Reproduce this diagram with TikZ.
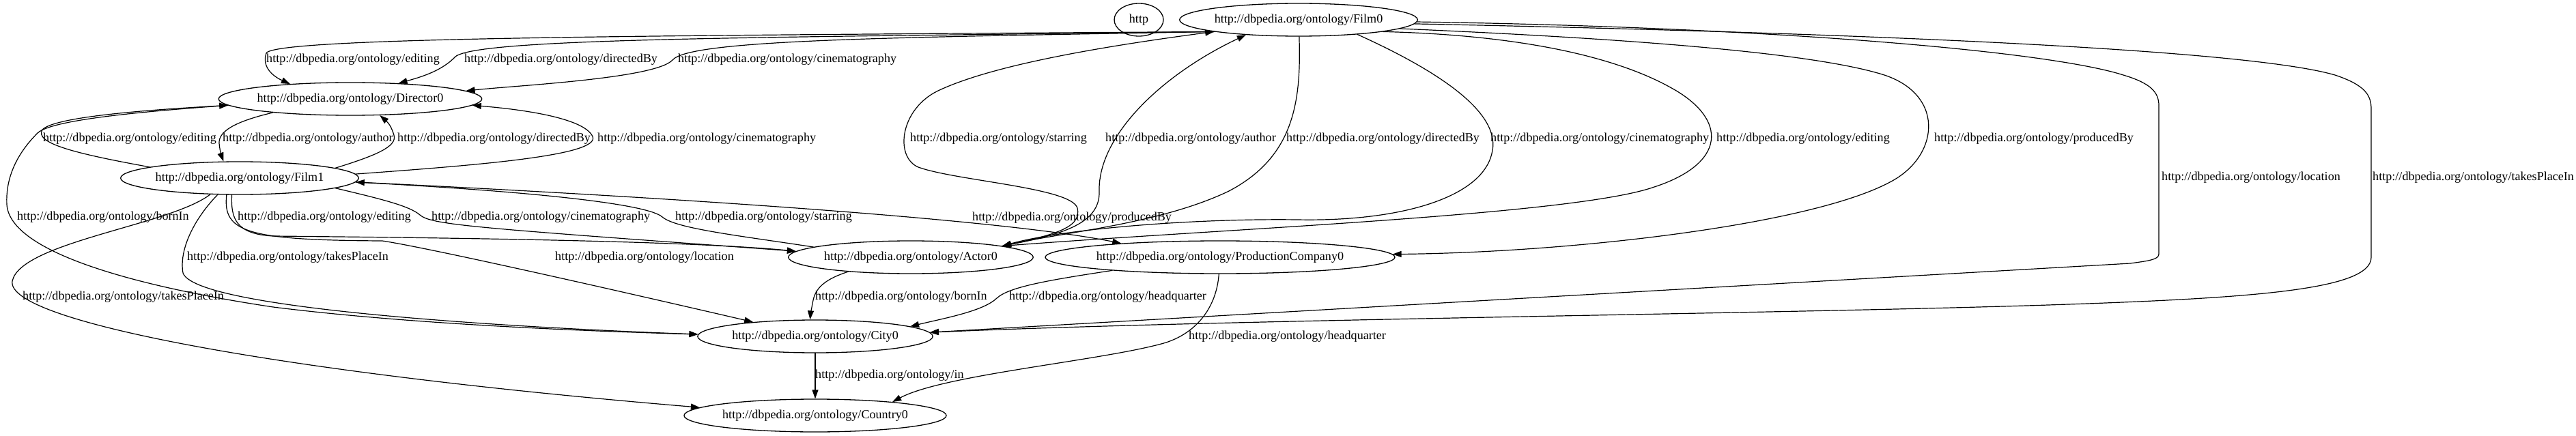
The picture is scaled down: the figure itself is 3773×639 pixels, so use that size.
\documentclass[tikz,border=0pt]{standalone}
\usepackage{fontspec}
\setmainfont{Liberation Serif}
\usepackage{tikz}
\usetikzlibrary{arrows.meta,shapes.geometric}
\newcommand{\dbo}[1]{http://dbpedia.org/ontology/#1}
\tikzset{
  kg graph/.style={x=1pt, y=-1pt, font=\fontsize{18.1}{22}\selectfont,
    line cap=round, line join=round},
  kg node/.style={draw, ellipse, line width=1.3pt, inner sep=0pt,
    minimum height=48pt},
  kg edge/.style={-{Triangle[length=13pt,width=9pt]}, line width=1.2pt},
  kg label/.style={inner sep=0pt, anchor=west}
}

\begin{document}
\begin{tikzpicture}[kg graph]
\useasboundingbox (0,0) rectangle (3773,639);
\node[kg node,minimum width=72pt] (http) at (1668,29) {http};
\node[kg node] (film0) at (1902,29) {\dbo{Film0}};
\node[kg node] (director0) at (513,145) {\dbo{Director0}};
\node[kg node] (film1) at (351,261) {\dbo{Film1}};
\node[kg node] (actor0) at (1334,377) {\dbo{Actor0}};
\node[kg node] (company0) at (1787,377) {\dbo{ProductionCompany0}};
\node[kg node] (city0) at (1194,493) {\dbo{City0}};
\node[kg node] (country0) at (1194,609) {\dbo{Country0}};
% edge labels
\foreach \x/\y/\t [count=\i] in {390/87/editing, 680/87/directedBy,
    993/87/cinematography, 63/203/editing, 326/203/author,
    582/203/directedBy, 875/203/cinematography, 1333/203/starring,
    1619/203/author, 1884/203/directedBy, 2183/203/cinematography,
    2514/203/editing, 2833/203/producedBy, 3166/260/location,
    3475/260/takesPlaceIn, 25/318/bornIn, 348/318/editing,
    632/318/cinematography, 989/318/starring, 1424/319/producedBy,
    274/377/takesPlaceIn, 813/377/location, 33/435/takesPlaceIn,
    1194/435/bornIn, 1478/435/headquarter, 1741/493/headquarter,
    1194/550/in}
  \node[kg label] (lbl\i) at (\x,\y) {\dbo{\t}};
% Film0 -> Director0
\draw[kg edge] (film0.188) .. controls (1000,52) and (400,54) .. (390,78)
  .. controls (383,98) and (400,112) .. (director0.166);
\draw[kg edge] (film0.188) .. controls (1100,55) and (700,56) .. (667,83)
  .. controls (648,103) and (620,112) .. (director0.18);
\draw[kg edge] (film0.188) .. controls (1300,55) and (1010,58) .. (985,88)
  .. controls (960,115) and (760,125) .. (director0.4);
% Film1 <-> Director0
\draw[kg edge] (film1.173) .. controls (110,225) and (50,210) .. (62,190)
  .. controls (80,172) and (200,162) .. (director0.183);
\draw[kg edge] (director0.190) .. controls (345,178) and (320,192) .. (321,210)
  .. controls (322,222) and (325,230) .. (film1.134);
\draw[kg edge] (film1.6) .. controls (550,228) and (582,215) .. (577,198)
  .. controls (574,188) and (570,181) .. (director0.331);
\draw[kg edge] (film1.2) .. controls (700,242) and (880,228) .. (868,200)
  .. controls (855,172) and (760,160) .. (director0.357);
\draw[kg edge] (director0.183) .. controls (200,164) and (75,176) .. (55,195)
  .. controls (25,225) and (8,260) .. (10,300)
  .. controls (15,370) and (200,420) .. (400,450)
  .. controls (600,475) and (850,485) .. (city0.179);
% Film1 -> lower nodes
\draw[kg edge] (actor0.174) .. controls (1080,345) and (990,335) .. (970,318)
  .. controls (950,300) and (800,282) .. (film1.358);
\draw[kg edge] (film1.358) .. controls (900,285) and (1450,318) .. (company0.172);
\draw[kg edge] (film1.354) .. controls (560,292) and (600,302) .. (615,315)
  .. controls (632,330) and (700,334) .. (actor0.177);
\draw[kg edge] (film1.245) .. controls (338,320) and (345,343) .. (400,346)
  .. controls (600,348) and (1000,352) .. (actor0.177);
\draw[kg edge] (film1.232) .. controls (326,340) and (360,352) .. (560,353)
  .. controls (640,365) and (1000,448) .. (city0.167);
\draw[kg edge] (film1.217) .. controls (285,320) and (262,365) .. (268,400)
  .. controls (285,450) and (700,478) .. (city0.179);
\draw[kg edge] (film1.209) .. controls (250,330) and (30,355) .. (18,412)
  .. controls (8,470) and (400,545) .. (country0.176);
% Film0 <-> Actor0
\draw[kg edge] (actor0.7) .. controls (1540,345) and (1585,335) .. (1578,305)
  .. controls (1570,275) and (1400,265) .. (1345,245)
  .. controls (1310,230) and (1318,160) .. (1374,133)
  .. controls (1450,97) and (1600,70) .. (film0.188);
\draw[kg edge] (actor0.7) .. controls (1550,345) and (1612,330) .. (1610,280)
  .. controls (1608,200) and (1700,110) .. (film0.196);
\draw[kg edge] (film0.272) .. controls (1906,150) and (1895,230) .. (1800,280)
  .. controls (1700,328) and (1560,340) .. (actor0.7);
\draw[kg edge] (film0.346) .. controls (2120,110) and (2200,170) .. (2185,225)
  .. controls (2170,290) and (2050,325) .. (1900,322)
  .. controls (1750,320) and (1560,335) .. (actor0.7);
\draw[kg edge] (film0.352) .. controls (2250,52) and (2380,90) .. (2450,130)
  .. controls (2530,175) and (2530,240) .. (2420,275)
  .. controls (2300,315) and (1800,335) .. (actor0.7);
% Film0 -> company, city
\draw[kg edge] (film0.355) .. controls (2350,55) and (2650,75) .. (2760,110)
  .. controls (2850,140) and (2840,230) .. (2768,267)
  .. controls (2650,330) and (2300,370) .. (company0.1);
\draw[kg edge] (film0.359) .. controls (2600,40) and (3000,75) .. (3110,110)
  .. controls (3150,122) and (3162,135) .. (3162,155) -- (3162,372)
  .. controls (3162,380) and (3150,382) .. (3120,386) -- (city0.2);
\draw[kg edge] (film0.358) .. controls (2800,50) and (3300,75) .. (3420,110)
  .. controls (3465,125) and (3473,140) .. (3473,160) -- (3473,377)
  .. controls (3473,425) and (3300,437) .. (3000,447)
  .. controls (2600,460) and (1800,468) .. (city0.2);
% Actor0, company, city -> city, country
\draw[kg edge] (actor0.193) .. controls (1212,408) and (1195,420) .. (1191,440)
  .. controls (1188,455) and (1187,462) .. (city0.107);
\draw[kg edge] (company0.187) .. controls (1540,410) and (1478,420) .. (1460,437)
  .. controls (1440,456) and (1385,466) .. (city0.6);
\draw[kg edge] (company0.266) .. controls (1782,450) and (1752,492) .. (1697,505)
  .. controls (1600,530) and (1380,550) .. (country0.10);
\draw[kg edge] (city0) -- (country0);
\end{tikzpicture}
\end{document}
